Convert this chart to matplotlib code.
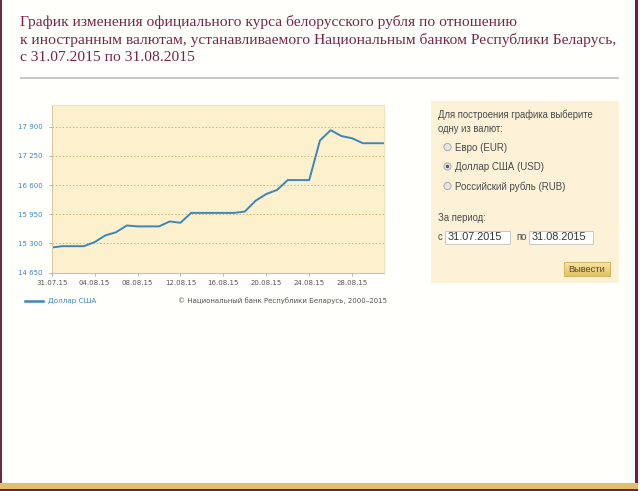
import numpy as np
import matplotlib
matplotlib.use("Agg")
import matplotlib.pyplot as plt
from matplotlib.patches import Rectangle, Circle
from matplotlib.lines import Line2D
from matplotlib.colors import LinearSegmentedColormap

# ---- data ----
dates = ["31.07.15", "01.08.15", "02.08.15", "03.08.15", "04.08.15", "05.08.15", "06.08.15",
         "07.08.15", "08.08.15", "09.08.15", "10.08.15", "11.08.15", "12.08.15", "13.08.15",
         "14.08.15", "15.08.15", "16.08.15", "17.08.15", "18.08.15", "19.08.15", "20.08.15",
         "21.08.15", "22.08.15", "23.08.15", "24.08.15", "25.08.15", "26.08.15", "27.08.15",
         "28.08.15", "29.08.15", "30.08.15", "31.08.15"]
usd_rate = [15210, 15240, 15240, 15240, 15330, 15480, 15550, 15700, 15680, 15680, 15680,
            15790, 15760, 15980, 15980, 15980, 15980, 15980, 16010, 16250, 16400, 16490,
            16710, 16710, 16710, 17590, 17820, 17690, 17640, 17530, 17530, 17530]
tick_labels = ["31.07.15", "04.08.15", "08.08.15", "12.08.15", "16.08.15",
               "20.08.15", "24.08.15", "28.08.15"]
y_ticks = [14650, 15300, 15950, 16600, 17250, 17900]
series_name = "Доллар США"

title_lines = ["График изменения официального курса белорусского рубля по отношению",
               "к иностранным валютам, устанавливаемого Национальным банком Республики Беларусь,",
               "с 31.07.2015 по 31.08.2015"]
copyright_text = "© Национальный банк Республики Беларусь, 2000–2015"
panel_intro = ["Для построения графика выберите", "одну из валют:"]
currencies = ["Евро (EUR)", "Доллар США (USD)", "Российский рубль (RUB)"]
selected = 1
period_label = "За период:"
date_from, date_to = "31.07.2015", "31.08.2015"
button_text = "Вывести"

W, H = 640, 491
fig = plt.figure(figsize=(W / 100, H / 100), dpi=100)
fig.patch.set_facecolor("#fffffc")

# overlay axes in pixel coordinates
bg = fig.add_axes([0, 0, 1, 1], zorder=0)
bg.set_xlim(0, W)
bg.set_ylim(H, 0)
bg.axis("off")

maroon = "#7a2347"
# page borders
bg.add_patch(Rectangle((0, 0), 1.5, H, color="#6e2a3c", lw=0))
bg.add_patch(Rectangle((635, 0), 2.5, H, color="#6e1f3a", lw=0))
bg.add_patch(Rectangle((637.5, 0), 3, H, color="#fafafa", lw=0))
bg.add_patch(Rectangle((0, 482.5), 637.5, 6.5, color="#e2bf6a", lw=0))
bg.add_patch(Rectangle((0, 489), 637.5, 2, color="#6e1f3a", lw=0))

# title
ys = [21.5, 39.5, 57.5]
for t, y in zip(title_lines, ys):
    bg.text(20, y, t, fontsize=11.15, color=maroon, family="Liberation Serif",
            va="center", ha="left")
bg.add_patch(Rectangle((20, 76.5), 599, 2, color="#c9c9c9", lw=0))

# right panel
bg.add_patch(Rectangle((431, 100.5), 188, 182, color="#fdf2d8", lw=0))
pf = "Liberation Sans"
ptc = "#4a4a4a"
bg.text(438, 115, panel_intro[0], fontsize=6.85, color=ptc, family=pf, va="center")
bg.text(438, 128.5, panel_intro[1], fontsize=6.85, color=ptc, family=pf, va="center")
for i, (c, y) in enumerate(zip(currencies, [148, 167.5, 187])):
    bg.add_patch(Circle((447.5, y - 1), 3.6, facecolor="#e6e6e6", edgecolor="#aaaaaa", lw=0.7))
    if i == selected:
        bg.add_patch(Circle((447.5, y - 1), 1.7, color="#555555", lw=0))
    bg.text(455, y, c, fontsize=7.0, color=ptc, family=pf, va="center")
bg.text(438, 218, period_label, fontsize=6.85, color=ptc, family=pf, va="center")
bg.text(438, 237, "с", fontsize=6.85, color=ptc, family=pf, va="center")
bg.add_patch(Rectangle((445, 230.5), 65, 13, facecolor="white", edgecolor="#c8c8c8", lw=0.7))
bg.text(448, 237, date_from, fontsize=7.8, color="#333333", family=pf, va="center")
bg.text(516, 237, "по", fontsize=6.85, color=ptc, family=pf, va="center")
bg.add_patch(Rectangle((529, 230.5), 64, 13, facecolor="white", edgecolor="#c8c8c8", lw=0.7))
bg.text(532, 237, date_to, fontsize=7.8, color="#333333", family=pf, va="center")
# button with gradient
grad = np.linspace(0, 1, 20).reshape(-1, 1)
cm = LinearSegmentedColormap.from_list("btn", ["#f7e6a8", "#e2c263"])
bg.imshow(grad, extent=(564, 610, 276, 262), cmap=cm, aspect="auto", zorder=1)
bg.add_patch(Rectangle((564, 262), 46, 14, facecolor="none", edgecolor="#d4b560", lw=0.7, zorder=2))
bg.text(587, 269.5, button_text, fontsize=6.7, color="#5a4a20", family=pf,
        va="center", ha="center", zorder=3)

# legend & copyright
bg.add_line(Line2D([24.5, 42.5], [300.5, 300.5], color="#3a86bd", lw=1.8))
bg.text(48, 300.5, series_name, fontsize=5.2, color="#3a86c4", family="DejaVu Sans",
        va="center")
bg.text(178, 300.5, copyright_text, fontsize=5.0, color="#555555", family="DejaVu Sans",
        va="center")

# ---- chart axes ----
left, right, top, bottom = 51.7, 384.3, 105, 272.7
ax = fig.add_axes([left / W, 1 - bottom / H, (right - left) / W, (bottom - top) / H], zorder=2)
ax.set_facecolor("#fdf0cd")
x = np.arange(len(usd_rate))
ax.plot(x, usd_rate, color="#3a86bd", lw=1.4, solid_joinstyle="round")
ax.set_xlim(0, len(usd_rate) - 1)
ax.set_ylim(14650, 18380)
ax.set_yticks(y_ticks)
ax.set_yticklabels([f"{v:,}".replace(",", " ") for v in y_ticks])
ax.set_xticks([dates.index(t) for t in tick_labels])
ax.set_xticklabels(tick_labels)
for v in y_ticks[1:]:
    ax.axhline(v, color="#d8b470", lw=0.7, ls=(0, (1.5, 2)), zorder=0)
ax.tick_params(axis="y", labelsize=5.0, labelcolor="#3f86bd", color="#9fb4c4",
               length=2.5, width=0.7, pad=4)
ax.tick_params(axis="x", labelsize=5.0, labelcolor="#555555", color="#9fb4c4",
               length=2.5, width=0.7, pad=3)
for lab in ax.get_yticklabels() + ax.get_xticklabels():
    lab.set_family("DejaVu Sans")
ax.spines["left"].set_color("#d9c9a0")
ax.spines["bottom"].set_color("#b9c4cc")
ax.spines["top"].set_color("#f1e2bb")
ax.spines["right"].set_color("#f1e2bb")
for s in ax.spines.values():
    s.set_linewidth(0.8)

fig.savefig("out.png", dpi=100, facecolor=fig.get_facecolor())
